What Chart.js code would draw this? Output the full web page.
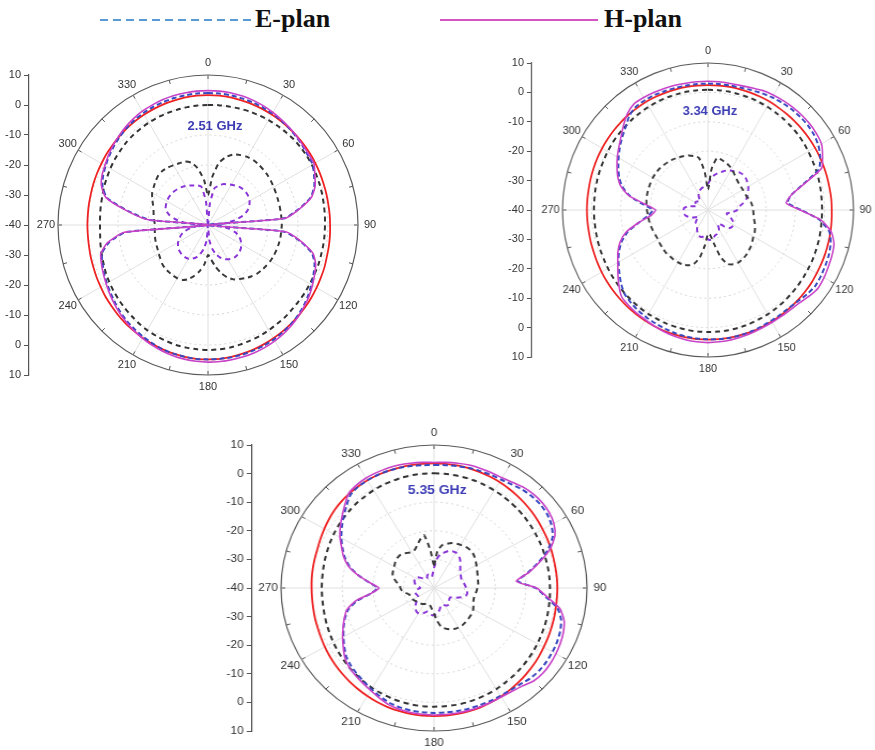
<!DOCTYPE html>
<html>
<head>
<meta charset="utf-8">
<script src="https://cdn.jsdelivr.net/npm/chart.js@4.4.0/dist/chart.umd.min.js"></script>
<style>
html,body{margin:0;padding:0;background:#fff;width:875px;height:750px;overflow:hidden;position:relative;}
.wrap{position:absolute;}
.wrap canvas{display:block;}
.legtext{position:absolute;font:bold 26px "Liberation Serif","Times New Roman",serif;color:#111;line-height:30px;}
</style>
</head>
<body>
<div style="position:absolute;left:100px;top:19px;width:152px;height:2px;background:repeating-linear-gradient(90deg,#5b9bd5 0 8px,transparent 8px 13px);"></div>
<div class="legtext" style="left:255px;top:4px;">E-plan</div>
<div style="position:absolute;left:440px;top:19px;width:158px;height:2px;background:#d455c2;"></div>
<div class="legtext" style="left:604px;top:4px;">H-plan</div>

<div class="wrap" id="w1" style="left:0px;top:40px;"><canvas id="c1" width="422" height="360"></canvas></div>
<div class="wrap" id="w2" style="left:501px;top:20px;transform:scaleX(0.99);transform-origin:207px 190px;"><canvas id="c2" width="420" height="367"></canvas></div>
<div class="wrap" id="w3" style="left:235px;top:405px;transform:scaleX(1.07);transform-origin:199px 183px;"><canvas id="c3" width="404" height="350"></canvas></div>

<script>
// ---- categories (angle in degrees, 5° steps) ----
const angleLabels = ['0','5','10','15','20','25','30','35','40','45','50','55',
  '60','65','70','75','80','85','90','95','100','105','110','115',
  '120','125','130','135','140','145','150','155','160','165','170','175',
  '180','185','190','195','200','205','210','215','220','225','230','235',
  '240','245','250','255','260','265','270','275','280','285','290','295',
  '300','305','310','315','320','325','330','335','340','345','350','355'];
const angleTickLabels = ['0','30','60','90','120','150','180','210','240','270','300','330'];
const dbTickLabels = ['10','0','-10','-20','-30','-40','-30','-20','-10','0','10'];
const titles = ['2.51 GHz','3.34 GHz','5.35 GHz'];

// ---- Plot 1 : 2.51 GHz (dB) ----
const p1HPlan = [4.8,4.8,4.7,4.5,4.2,3.8,3.3,2.8,2.3,1.8,1.3,1.0,
  0.8,-0.7,-2.0,-4.3,-9,-14,-40,-14,-8.5,-3.8,-1.8,-0.8,
  0.2,1.2,2.0,2.8,3.5,4.1,4.6,5.0,5.3,5.5,5.6,5.7,
  5.7,5.6,5.4,5.1,4.7,4.2,3.6,3.0,2.3,1.6,0.8,0.0,
  -0.8,-1.5,-2.2,-3.0,-6,-12,-40,-20,-12.4,-4.8,-2.2,-1.0,
  -0.3,0.5,1.3,2.0,2.7,3.3,3.8,4.1,4.4,4.6,4.7,4.8];
const p1EPlan = [4.0,4.0,3.9,3.7,3.5,3.2,2.9,2.5,2.1,1.6,1.1,0.6,
  0.3,-1.0,-2.3,-4.6,-9.3,-14.5,-40,-14.5,-8.8,-4.2,-2.2,-1.2,
  -0.2,0.8,1.7,2.5,3.1,3.6,4.0,4.3,4.5,4.7,4.8,4.8,
  4.8,4.8,4.6,4.4,4.1,3.6,3.1,2.5,1.9,1.2,0.4,-0.4,
  -1.1,-1.8,-2.6,-3.4,-6.5,-12.5,-40,-20.5,-12.8,-5.2,-2.6,-1.4,
  -0.6,0.2,0.9,1.6,2.2,2.7,3.1,3.4,3.6,3.8,3.9,4.0];
const p1Red = [3.3,3.3,3.2,3.0,2.9,2.7,2.5,2.3,2.1,1.9,1.7,1.5,
  1.3,1.1,0.9,0.8,0.7,0.7,0.7,0.8,0.9,1.0,1.3,1.5,
  1.8,2.1,2.4,2.7,3.0,3.3,3.6,3.9,4.2,4.4,4.6,4.8,
  4.8,4.8,4.6,4.4,4.1,3.8,3.5,3.1,2.8,2.4,2.0,1.7,
  1.3,1.0,0.7,0.5,0.3,0.2,0.2,0.2,0.3,0.4,0.6,0.8,
  1.0,1.3,1.5,1.8,2.1,2.3,2.5,2.7,2.9,3.0,3.2,3.3];
const p1BlackOuter = [0,0.1,0.1,0.2,0.3,0.3,0.4,0.4,0.4,0.4,0.3,0.2,
  0,-0.2,-0.4,-0.6,-0.8,-0.9,-1,-1,-1,-1,-0.9,-0.9,
  -0.8,-0.6,-0.5,-0.3,0,0.2,0.5,0.8,1.0,1.3,1.5,1.6,
  1.7,1.6,1.5,1.4,1.1,0.8,0.5,0.1,-0.4,-0.8,-1.2,-1.6,
  -2,-2.4,-2.9,-3.3,-3.6,-3.9,-4,-3.9,-3.7,-3.5,-3.1,-2.8,
  -2.4,-2.0,-1.7,-1.3,-1.0,-0.8,-0.6,-0.4,-0.3,-0.2,-0.1,0];
const p1BlackInner = [-30,-24,-19,-16.5,-15,-14.3,-13.8,-13.6,-13.7,-13.9,-14.1,-14.4,
  -14.7,-15,-15.2,-15.3,-15.4,-15.4,-15.4,-15.5,-15.5,-15.6,-15.7,-15.8,
  -16,-16.3,-16.6,-17,-17.6,-18.4,-19.2,-20,-21.5,-23.5,-26,-28.5,
  -30,-27,-24.5,-22.5,-20.8,-19.8,-19.5,-19.5,-19.6,-19.7,-20,-20.6,
  -21,-21.4,-21.6,-21.8,-22,-22.2,-22.3,-22,-21.6,-21.2,-20.5,-19.5,
  -18.5,-17.9,-17.2,-16.6,-16.4,-16.6,-17,-17.3,-17.5,-18.5,-21,-25];
const p1Purple = [-40,-33,-27.5,-26.5,-25.5,-25,-24.5,-24,-23.5,-23.3,-23.3,-23.5,
  -24,-24.8,-26,-28,-31,-35,-40,-36,-33,-30.5,-29,-28,
  -27.2,-26.6,-26.2,-26,-26,-26.3,-26.8,-27.5,-28.5,-30,-32,-35,
  -40,-35,-32,-30,-28.5,-27.6,-27,-26.8,-26.8,-27,-27.3,-27.8,
  -28.5,-29.5,-30.5,-32,-34,-36.5,-40,-33,-29,-26.5,-25,-24.5,
  -24.2,-24,-24,-24.1,-24.3,-24.6,-25,-25.5,-26,-26.3,-27,-32];

// ---- Plot 2 : 3.34 GHz (dB) ----
const p2HPlan = [3.8,3.8,3.7,3.8,4.2,4.8,5.1,5.3,5.5,5.6,5.6,5.4,
  5.0,3.4,1.5,-5.8,-11,-13,-8.3,-1.1,3.0,4.8,5.3,5.6,
  6.0,6.2,5.5,4.6,4.2,4.1,4.1,4.2,4.4,4.6,4.9,5.0,
  5.1,5.0,4.8,4.5,4.1,3.6,3.1,2.8,2.4,1.9,0.0,-2.2,
  -4.2,-5.8,-7.8,-10.8,-16,-20.5,-22,-18.5,-12.5,-9,-7,-5.5,
  -4,-2.6,-1.0,1.0,3.0,4.2,4.2,4.1,4.0,3.9,3.8,3.8];
const p2EPlan = [3.0,3.0,3.0,3.1,3.4,3.8,4.2,4.5,4.7,4.8,4.8,4.5,
  3.8,2.5,0.5,-6.2,-11,-12.5,-8,-1.5,2.3,3.6,4.2,4.5,
  4.8,5.0,4.5,3.8,3.4,3.4,3.5,3.7,3.9,4.0,4.1,4.1,
  4.0,3.9,3.7,3.4,3.0,2.6,2.2,1.8,1.2,0.5,-1.0,-2.8,
  -4.5,-6.2,-8.4,-11.5,-16,-19.5,-21,-17.5,-12.8,-9.5,-7.5,-6,
  -4.5,-3,-1.5,0.0,2.0,3.0,3.2,3.2,3.1,3.0,3.0,3.0];
const p2Red = [2.5,2.5,2.5,2.5,2.5,2.5,2.5,2.4,2.4,2.4,2.4,2.4,
  2.4,2.4,2.4,2.4,2.4,2.5,2.5,2.6,2.7,2.8,2.9,3.0,
  3.1,3.3,3.4,3.5,3.6,3.7,3.8,3.9,4.0,4.0,4.1,4.1,
  4.1,4.1,4.0,3.9,3.8,3.6,3.4,3.2,3.0,2.8,2.6,2.4,
  2.2,2.0,1.8,1.7,1.6,1.6,1.6,1.6,1.6,1.7,1.8,1.9,
  2.0,2.1,2.2,2.3,2.4,2.4,2.5,2.5,2.5,2.5,2.5,2.5];
const p2BlackOuter = [0.9,0.9,0.9,0.8,0.8,0.7,0.6,0.5,0.4,0.3,0.2,0.0,
  -0.2,-0.4,-0.5,-0.6,-0.7,-0.8,-0.8,-0.8,-0.7,-0.6,-0.5,-0.3,
  -0.2,0.0,0.2,0.4,0.6,0.8,1.0,1.1,1.3,1.4,1.5,1.5,
  1.5,1.5,1.4,1.3,1.2,1.0,0.9,0.7,0.5,0.3,0.1,-0.1,
  -0.3,-0.5,-0.6,-0.7,-0.8,-0.8,-0.8,-0.8,-0.7,-0.6,-0.5,-0.4,
  -0.2,0.0,0.1,0.2,0.4,0.5,0.6,0.7,0.8,0.8,0.9,0.9];
const p2BlackInner = [-33,-26,-22,-22.3,-22.8,-23.2,-23.8,-24.6,-25.3,-25.8,-26.1,-26.2,
  -26.2,-26.1,-26,-25.5,-25,-24.7,-24.5,-24.3,-24,-23.4,-22.8,-22.3,
  -22,-21.4,-20.8,-20.3,-19.8,-19.5,-19.3,-19.6,-20.5,-23.5,-28.5,-31.5,
  -32,-28,-23.5,-21,-20,-19.5,-19.4,-19.4,-19.5,-19.5,-19.7,-19.9,
  -20.1,-20,-19.8,-19.6,-19.4,-19.3,-19,-18.8,-18.5,-18.4,-18.3,-18.2,
  -18.1,-18.1,-18.2,-18.4,-18.7,-19.0,-19.4,-19.8,-20.3,-21,-22,-27];
const p2Purple = [-31,-29.5,-28,-27,-26.2,-25.2,-24.5,-24,-23.3,-23,-23.1,-23.5,
  -24,-24.8,-25.6,-26.5,-28,-29.5,-30,-31.5,-33.5,-33,-31.5,-30.5,
  -30,-30,-30.5,-32,-34,-34,-32.5,-31.5,-31.2,-31,-30,-29.8,
  -30,-31,-30.8,-30.5,-30.8,-31.5,-32.5,-33.5,-33.8,-34,-35,-36,
  -35,-34,-33,-32.2,-31.8,-31.6,-31.6,-31.8,-33,-35,-36,-35.5,
  -35,-35,-35.5,-36,-35.5,-34.5,-33.5,-33,-32.5,-32.2,-32,-31.5];

// ---- Plot 3 : 5.35 GHz (dB) ----
const p3HPlan = [3.9,4.1,4.3,4.5,4.5,4.5,4.5,5.0,5.8,6.2,6.3,6.0,
  5.2,3.6,0.5,-4,-8.5,-13,-6.5,-2.8,1.8,4.0,5.0,5.6,
  6.0,6.3,6.4,6.0,4.8,4.2,4.0,4.1,4.2,4.3,4.4,4.4,
  4.4,4.3,4.2,3.9,3.4,2.4,1.4,0.6,-0.1,-0.8,-2.0,-3.8,
  -5.5,-7.2,-8.8,-10.5,-14,-19.5,-22,-19,-15,-11.2,-8.6,-6.7,
  -4.5,-2.6,-0.8,1.2,3.3,4.0,4.4,4.5,4.6,4.5,4.3,4.1];
const p3EPlan = [3.0,3.1,3.3,3.5,3.6,3.7,3.8,4.2,4.9,5.3,5.4,5.1,
  4.3,2.8,-0.2,-4.5,-8.8,-12.5,-6.8,-3.2,1.0,3.0,3.9,4.4,
  4.7,4.9,4.9,4.6,3.9,3.6,3.5,3.6,3.6,3.7,3.7,3.7,
  3.7,3.6,3.5,3.2,2.7,1.8,0.9,0.0,-0.8,-1.6,-2.6,-4.2,
  -5.8,-7.4,-9.0,-11.0,-14.5,-19.5,-21.5,-18.8,-15,-11.5,-9,-7,
  -5,-3.2,-1.4,0.5,2.5,3.2,3.5,3.6,3.6,3.5,3.3,3.1];
const p3Red = [3.6,3.6,3.5,3.4,3.2,3.0,2.8,2.5,2.2,1.9,1.6,1.3,
  1.0,0.8,0.6,0.4,0.3,0.3,0.3,0.3,0.4,0.6,0.8,1.1,
  1.4,1.8,2.2,2.6,3.0,3.4,3.8,4.1,4.4,4.6,4.7,4.8,
  4.8,4.8,4.7,4.5,4.3,4.0,3.6,3.2,2.8,2.4,2.0,1.6,
  1.2,0.8,0.5,0.3,0.1,0.0,0.0,0.1,0.2,0.3,0.5,0.9,
  1.4,1.9,2.4,2.8,3.1,3.3,3.5,3.6,3.6,3.6,3.6,3.6];
const p3BlackOuter = [0.1,0.1,0.0,-0.1,-0.2,-0.4,-0.6,-0.8,-1.0,-1.2,-1.4,-1.6,
  -1.8,-1.9,-2.0,-2.1,-2.1,-2.1,-2.1,-2.0,-1.9,-1.7,-1.5,-1.3,
  -1.0,-0.7,-0.4,-0.1,0.2,0.5,0.8,1.0,1.2,1.4,1.5,1.5,
  1.5,1.5,1.4,1.2,1.0,0.7,0.4,0.0,-0.4,-0.8,-1.2,-1.6,
  -2.0,-2.4,-2.7,-3.0,-3.2,-3.3,-3.3,-3.3,-3.2,-3.0,-2.8,-2.5,
  -2.2,-1.9,-1.6,-1.3,-1.0,-0.8,-0.5,-0.3,-0.2,0.0,0.1,0.1];
const p3BlackInner = [-32,-27,-24.8,-24,-23.3,-22.9,-22.6,-22.3,-22.2,-22.3,-22.8,-23.4,
  -24,-24.5,-24.9,-25.2,-25.4,-25.5,-25.8,-26.1,-26.4,-26.5,-26.3,-25.8,
  -25.2,-24.8,-24.6,-24.4,-24.2,-24,-24,-24.2,-24.6,-25.3,-26.2,-28.5,
  -31,-32.5,-33.5,-34,-34,-33.8,-33.5,-33.2,-33,-32.8,-32.6,-32.3,
  -32,-31.8,-31.8,-31.5,-30.5,-29.5,-29,-28.8,-27.5,-26.3,-25.6,-25.3,
  -25,-24.5,-24.1,-24,-24.3,-25,-25.5,-25.2,-24,-22.5,-21.2,-27];
const p3Purple = [-33,-30,-28,-27.2,-26.2,-25.8,-25.7,-26,-26.8,-27.8,-28.8,-29.5,
  -30,-30.3,-30.5,-30.4,-30.1,-29.8,-29.5,-29.2,-29,-29.3,-30.5,-32,
  -33.5,-33.8,-33.5,-33,-32.5,-32.5,-33,-33.5,-33.5,-32.5,-31.5,-30.8,
  -30.5,-30.6,-31.2,-31.5,-30.8,-30,-29.8,-30,-30.6,-31.5,-32.5,-33.5,
  -34,-34,-33.8,-33.7,-33.8,-34.5,-35.5,-35,-34,-33.5,-33.2,-33,
  -33,-33.5,-34.5,-35.5,-36,-36,-35.5,-35,-35,-35.5,-36,-35];

// ---- drawing ----
const FONT = '"Liberation Sans", Arial, sans-serif';

const polarDecor = {
  id: 'polarDecor',
  afterDatasetsDraw(chart, args, opts) {
    const s = chart.scales.r;
    const ctx = chart.ctx;
    ctx.save();
    ctx.strokeStyle = '#555';
    ctx.lineWidth = 1;
    for (let i = 0; i < angleLabels.length; i += 3) {
      const a = s.getPointPosition(i, s.drawingArea);
      const b = s.getPointPosition(i, s.drawingArea - 4);
      ctx.beginPath(); ctx.moveTo(a.x, a.y); ctx.lineTo(b.x, b.y); ctx.stroke();
    }
    ctx.font = '11px ' + FONT;
    ctx.fillStyle = '#333';
    ctx.textAlign = 'center';
    ctx.textBaseline = 'middle';
    angleTickLabels.forEach((t, k) => {
      const p = s.getPointPosition(k * 6, s.drawingArea + 12);
      ctx.fillText(t, p.x, p.y);
    });
    ctx.font = 'bold 13px ' + FONT;
    ctx.fillStyle = '#3c3cb4';
    ctx.fillText(opts.title, s.xCenter + opts.dx, s.yCenter + opts.dy);
    ctx.restore();
  }
};

function ds(data, color, width, dash) {
  return {
    data: data, borderColor: color, borderWidth: width, borderDash: dash,
    fill: false, pointRadius: 0, pointHoverRadius: 0, tension: 0.2, clip: false
  };
}

function makeChart(id, series, pad, title, dx, dy) {
  return new Chart(document.getElementById(id), {
    type: 'radar',
    data: {
      labels: angleLabels,
      datasets: [
        ds(series[0], '#c842c8', 1.6, []),
        ds(series[1], '#3848c0', 2, [5, 3]),
        ds(series[2], '#ee2222', 1.8, []),
        ds(series[3], '#333333', 2, [5, 4]),
        ds(series[4], '#3a3a3a', 2, [5, 4]),
        ds(series[5], '#8a35d8', 2, [5, 4])
      ]
    },
    options: {
      responsive: false,
      animation: false,
      events: [],
      layout: { padding: pad },
      plugins: {
        legend: { display: false },
        tooltip: { enabled: false },
        polarDecor: { title: title, dx: dx, dy: dy }
      },
      scales: {
        r: {
          min: -40, max: 10,
          ticks: { display: false, stepSize: 10 },
          pointLabels: { display: false },
          grid: {
            circular: true,
            color: c => c.tick.value === 10 ? '#5a5a5a' : '#d4d4d4',
            lineWidth: c => c.tick.value === 10 ? 1.2 : 1
          },
          border: { dash: c => c.tick.value === 10 ? [] : [2, 3] },
          angleLines: {
            color: '#e0e0e0',
            lineWidth: c => c.index % 6 === 0 ? 1 : 0
          }
        },
        y: {
          type: 'linear', position: 'left', min: -50, max: 50,
          afterFit: s => { s.width = 29; },
          ticks: {
            stepSize: 10, autoSkip: false, padding: 3, color: '#333',
            font: { size: 11, family: FONT },
            callback: (v, i) => dbTickLabels[i]
          },
          grid: { drawOnChartArea: false, drawTicks: true, tickLength: 5, color: '#555' },
          border: { display: true, color: '#555', width: 1.2 }
        }
      }
    },
    plugins: [polarDecor]
  });
}

makeChart('c1', [p1HPlan, p1EPlan, p1Red, p1BlackOuter, p1BlackInner, p1Purple],
  { left: 0, top: 35, right: 35, bottom: 25 }, titles[0], 7, -99);
makeChart('c2', [p2HPlan, p2EPlan, p2Red, p2BlackOuter, p2BlackInner, p2Purple],
  { left: 0, top: 43, right: 35, bottom: 30 }, titles[1], 2, -99);
makeChart('c3', [p3HPlan, p3EPlan, p3Red, p3BlackOuter, p3BlackInner, p3Purple],
  { left: 0, top: 40, right: 35, bottom: 24 }, titles[2], 3, -98);
</script>
</body>
</html>
